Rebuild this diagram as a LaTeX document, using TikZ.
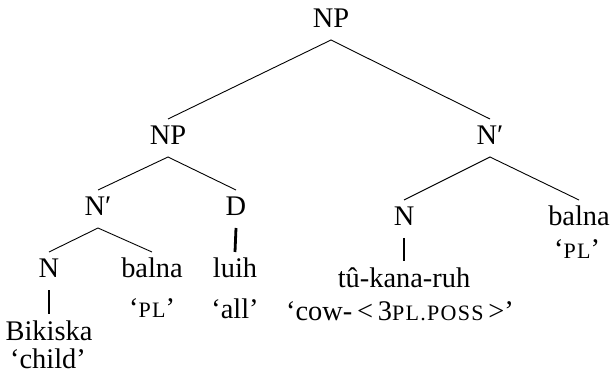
\documentclass[tikz,border=0pt]{standalone}
\usepackage{fontspec}
\setmainfont{Liberation Serif}
\usepackage{tikz}

\newcommand{\fsc}[1]{{\fontsize{11}{12}\selectfont\addfontfeature{LetterSpace=6}#1}}

\begin{document}
\begin{tikzpicture}[x=0.5pt, y=-0.5pt,
	lbl/.style={anchor=base, inner xsep=0pt, inner ysep=3.5pt, outer sep=0pt,
		text height=9.5pt, text depth=2.5pt, font=\fontsize{14.2}{17}\selectfont},
	gloss/.style={anchor=base, inner sep=0pt, font=\fontsize{14.2}{17}\selectfont},
	branch/.style={line width=0.45pt},
	stem/.style={line width=1.4pt}]
	\useasboundingbox (0,0) rectangle (610,379);
	% phrase nodes
	\node[lbl] (np0) at (331,28) {NP};
	\node[lbl] (np1) at (168,145) {NP};
	\node[lbl] (nbar2) at (490,145) {N′};
	\node[lbl] (nbar1) at (98,216) {N′};
	\node[lbl] (d) at (236,216) {D};
	\node[lbl] (n2) at (404,226) {N};
	\node[lbl] (balna2) at (579,226) {balna};
	\node[gloss] (pl2) at (577,258) {`\fsc{PL}'};
	\node[lbl] (n1) at (49,278) {N};
	\node[lbl] (balna1) at (152,278) {balna};
	\node[gloss] (pl1) at (152,317) {`\fsc{PL}'};
	\node[lbl] (luih) at (235,278) {luih};
	\node[gloss] (all) at (235,318) {`all'};
	\node[lbl] (tu) at (404,287) {tû-kana-ruh};
	\node[gloss] (cow) at (400,320) {`cow-\,<\,3\fsc{PL.POSS}\,>'};
	\node[lbl] (bikiska) at (49,340) {Bikiska};
	\node[gloss] (child) at (48,368) {`child'};
	% branches
	\draw[branch] (np1.north) -- (np0.south) -- (nbar2.north);
	\draw[branch] (nbar1.north) -- (np1.south) -- (d.north);
	\draw[branch] (n2.north) -- (nbar2.south) -- (balna2.north);
	\draw[branch] (n1.north) -- (nbar1.south) -- (balna1.north);
	\draw[stem] (d.south) -- (luih.north);
	\draw[stem] (n1.south) -- (bikiska.north);
	\draw[stem] (n2.south) -- (tu.north);
\end{tikzpicture}
\end{document}
